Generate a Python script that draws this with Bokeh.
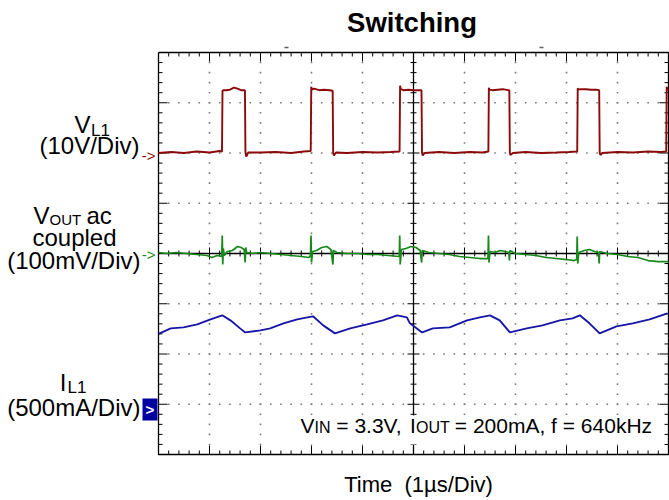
import numpy as np
from bokeh.plotting import figure
from bokeh.models import Range1d
from bokeh.core.properties import value
from bokeh.embed import file_html
from bokeh.resources import INLINE

# ---------------- data ----------------
# time in microseconds (1 us / div, 10 div)
# V_L1 switch node, volts (10 V/div, reference marker at +2 div)
VL1 = [(0.00, 0.0), (0.25, 0.2), (0.50, 0.0), (0.75, 0.3), (1.00, 0.1), (1.20, 0.4),
       (1.245, 0.3), (1.255, 12.4), (1.27, 12.5), (1.32, 12.5), (1.40, 12.6), (1.48, 13.0),
       (1.55, 12.8), (1.62, 12.5), (1.695, 12.5), (1.705, 0.2), (1.72, -0.7), (1.76, 0.1),
       (2.00, 0.1), (2.30, 0.2), (2.60, 0.0), (2.85, 0.3), (2.985, 0.4), (2.995, 13.2),
       (3.01, 12.6), (3.05, 12.8), (3.15, 12.5), (3.25, 12.6), (3.35, 12.5), (3.415, 12.4),
       (3.425, 0.0), (3.44, -0.5), (3.48, 0.1), (3.70, 0.0), (4.00, 0.2), (4.30, 0.1),
       (4.55, 0.2), (4.727, 0.3), (4.737, 13.4), (4.75, 12.7), (4.80, 12.5), (4.90, 12.6),
       (5.00, 12.5), (5.10, 12.5), (5.157, 12.5), (5.167, 0.1), (5.18, -0.5), (5.22, 0.0),
       (5.50, 0.2), (5.80, 0.0), (6.10, 0.2), (6.35, 0.1), (6.468, 0.3), (6.478, 13.0),
       (6.49, 12.6), (6.55, 12.5), (6.65, 12.6), (6.75, 12.7), (6.85, 12.5), (6.879, 12.5),
       (6.889, 0.1), (6.90, -0.4), (6.95, 0.0), (7.20, 0.2), (7.50, 0.0), (7.80, 0.1),
       (8.05, 0.2), (8.21, 0.3), (8.22, 12.9), (8.235, 12.6), (8.28, 12.7), (8.38, 12.7),
       (8.48, 12.6), (8.58, 12.6), (8.641, 12.5), (8.651, 0.1), (8.665, -0.4), (8.70, 0.0),
       (9.00, 0.2), (9.30, 0.1), (9.60, 0.3), (9.85, 0.2), (9.955, 0.3), (9.965, 13.2),
       (9.98, 12.6), (10.0, 12.6)]

# V_OUT ac coupled, millivolts (100 mV/div, reference marker at 0 div)
VOUT = [(0.00, 2), (0.15, 0), (0.35, 2), (0.55, 0), (0.75, -2), (0.95, -4), (1.05, -8),
        (1.15, -4), (1.24, -6), (1.25, 36), (1.26, -22), (1.27, 10), (1.29, -4), (1.35, 4),
        (1.45, 6), (1.55, 14), (1.62, 12), (1.68, 8), (1.70, -18), (1.71, 12), (1.73, 2),
        (1.85, 0), (2.00, 2), (2.20, 0), (2.40, -2), (2.60, -4), (2.80, -6), (2.95, -8),
        (2.98, -4), (2.99, 36), (3.00, -18), (3.02, 4), (3.10, 6), (3.20, 12), (3.30, 14),
        (3.38, 8), (3.42, -22), (3.43, 6), (3.50, 2), (3.70, 0), (3.90, 0), (4.10, -2),
        (4.30, -2), (4.50, -4), (4.72, -6), (4.73, 36), (4.74, -22), (4.76, 8), (4.85, 10),
        (4.95, 14), (5.05, 12), (5.13, 6), (5.16, -18), (5.17, 6), (5.30, 2), (5.50, 0),
        (5.70, -2), (5.90, -6), (6.10, -8), (6.30, -10), (6.46, -10), (6.47, 36), (6.48, -18),
        (6.50, 4), (6.60, 2), (6.70, 6), (6.80, 4), (6.87, 2), (6.88, -14), (6.89, 6),
        (7.00, 0), (7.20, -2), (7.40, -4), (7.60, -8), (7.80, -10), (8.00, -12), (8.15, -14),
        (8.20, -12), (8.21, 34), (8.22, -20), (8.24, 2), (8.35, 6), (8.45, 8), (8.55, 4),
        (8.63, 2), (8.64, -20), (8.65, 4), (8.80, 0), (9.00, -2), (9.20, -6), (9.40, -8),
        (9.60, -14), (9.80, -16), (10.00, -16)]

# I_L1 inductor current, milliamps (500 mA/div, reference marker at -3.1 div)
IL1 = [(0.00, 750), (0.24, 805), (0.49, 815), (0.76, 845), (1.02, 895), (1.25, 935),
       (1.41, 885), (1.60, 805), (1.70, 765), (2.00, 785), (2.19, 805), (2.45, 855),
       (2.72, 895), (2.92, 915), (3.03, 925), (3.23, 835), (3.46, 755), (3.76, 805),
       (4.09, 845), (4.40, 885), (4.68, 935), (4.87, 915), (4.93, 855), (5.17, 765),
       (5.38, 805), (5.71, 815), (6.05, 885), (6.30, 915), (6.50, 935), (6.69, 885),
       (6.89, 765), (7.22, 805), (7.53, 835), (7.87, 885), (8.12, 905), (8.26, 935),
       (8.45, 855), (8.65, 755), (8.98, 825), (9.30, 855), (9.63, 895), (9.98, 955)]

VL1_SCALE, VL1_REF = 10.0, 2.0        # V/div, marker position (div)
VOUT_SCALE, VOUT_REF = 100.0, 0.0     # mV/div
IL1_SCALE, IL1_REF = 500.0, -3.1      # mA/div

TITLE = "Switching"
XLABEL = "Time\u00a0\u00a0(1\u00b5s/Div)"

# ---------------- layout ----------------
W, H = 669, 500
X0, Y0 = 158.0, 253.0          # pixel position of t=0, 0 div
PXX, PXY = 51.0, 50.25         # pixels per division


def X(px):
    return (px - X0) / PXX


def Y(py):
    return (Y0 - py) / PXY


FONT = value("Liberation Sans")

p = figure(width=W, height=H, x_range=Range1d(X(0), X(W)), y_range=Range1d(Y(H), Y(0)),
           output_backend="svg", toolbar_location=None, x_axis_location=None,
           y_axis_location=None, title=None, min_border=0)
p.grid.visible = False
p.outline_line_color = None
p.background_fill_color = "white"
p.border_fill_color = "white"

# grid dots
gx, gy = [], []
for gxv in range(1, 10):
    if gxv == 5:
        continue
    for j in range(1, 40):
        gx.append(gxv)
        gy.append(-4 + 0.2 * j)
for gyv in range(-3, 4):
    if gyv == 0:
        continue
    for k in range(1, 50):
        gx.append(0.2 * k)
        gy.append(gyv)
p.scatter(gx, gy, marker="square", size=1.6, line_color=None, fill_color="#7a7a7a")

# ticks
x0s, y0s, x1s, y1s = [], [], [], []
for k in range(1, 50):
    x = 0.2 * k
    major = (k % 5 == 0)
    L = (9 if major else 4) / PXY
    x0s += [x, x]; y0s += [4, -4]; x1s += [x, x]; y1s += [4 - L, -4 + L]
    if abs(x - 5) > 1e-6:
        Lc = (6 if major else 3) / PXY
        x0s.append(x); y0s.append(-Lc); x1s.append(x); y1s.append(Lc)
for j in range(1, 40):
    y = -4 + 0.2 * j
    major = (j % 5 == 0)
    L = (9 if major else 4) / PXX
    x0s += [0, 10]; y0s += [y, y]; x1s += [L, 10 - L]; y1s += [y, y]
    if abs(y) > 1e-6:
        Lc = (6 if major else 3) / PXX
        x0s.append(5 - Lc); y0s.append(y); x1s.append(5 + Lc); y1s.append(y)
p.segment(x0s, y0s, x1s, y1s, line_color="black", line_width=1)

# centre cross and border
p.segment([0, 5], [0, -4], [10, 5], [0, 4], line_color="black", line_width=1.3)
p.line([0, 10, 10, 0, 0], [4, 4, -4, -4, 4], line_color="black", line_width=1.3)
# small marks above the graticule
p.segment([X(284), X(539)], [Y(47), Y(47)], [X(288), X(543)], [Y(47), Y(47)],
          line_color="#606060", line_width=1.5)

# traces
t, v = zip(*VL1)
p.line(list(t), [VL1_REF + a / VL1_SCALE for a in v], line_color="#8B0A0A", line_width=1.9)
t, v = zip(*VOUT)
p.line(list(t), [VOUT_REF + a / VOUT_SCALE for a in v], line_color="#17891A", line_width=1.7)
t, v = zip(*IL1)
p.line(list(t), [IL1_REF + a / IL1_SCALE for a in v], line_color="#1616A8", line_width=1.9)


def txt(px, py, s, size, align="left", color="black", style="normal", baseline="alphabetic"):
    # py is the wanted baseline in pixels; compensate the renderer's baseline shift
    if baseline == "alphabetic":
        py = py - 0.4 * size
    p.text([X(px)], [Y(py)], text=[s], text_font=FONT, text_font_size=f"{size}px",
           text_align=align, text_baseline=baseline, text_color=color,
           text_font_style=style)


# title and x label
txt(411.5, 32.5, TITLE, 27.5, align="center", style="bold")
txt(418, 493, XLABEL, 22, align="center")

# channel labels
txt(90, 134, "V", 24, align="right")
txt(90.5, 137, "L1", 17)
txt(139, 155, "(10V/Div)", 24, align="right")

txt(33, 225, "V", 24)
txt(49, 225, "OUT", 15)
txt(86, 225, "ac", 24)
txt(74, 247, "coupled", 24, align="center")
txt(140, 270, "(100mV/Div)", 24, align="right")

txt(66, 392, "I", 24, align="right")
txt(67, 394, "L1", 17)
txt(140, 417, "(500mA/Div)", 24, align="right")

# reference markers
txt(155, 155, "->", 15, align="right", color="#8B0A0A", baseline="middle")
txt(155, 254, "->", 15, align="right", color="#17891A", baseline="middle")
p.quad(left=[X(142)], right=[X(157)], top=[Y(398)], bottom=[Y(420)],
       fill_color="#0000A0", line_color=None)
txt(149.5, 409, ">", 15, align="center", color="white", style="bold", baseline="middle")

# operating conditions box
p.quad(left=[X(297)], right=[X(660)], top=[Y(415)], bottom=[Y(444)],
       fill_color="white", line_color=None)
txt(300, 433, "V", 21)
txt(314, 433, "IN", 16)
txt(335.8, 433, "= 3.3V,", 21)
txt(409.5, 433, "I", 21)
txt(415.5, 433, "OUT", 16)
txt(454.3, 433, "= 200mA, f = 640kHz", 21)

open("out.html", "w").write(file_html(p, INLINE))
